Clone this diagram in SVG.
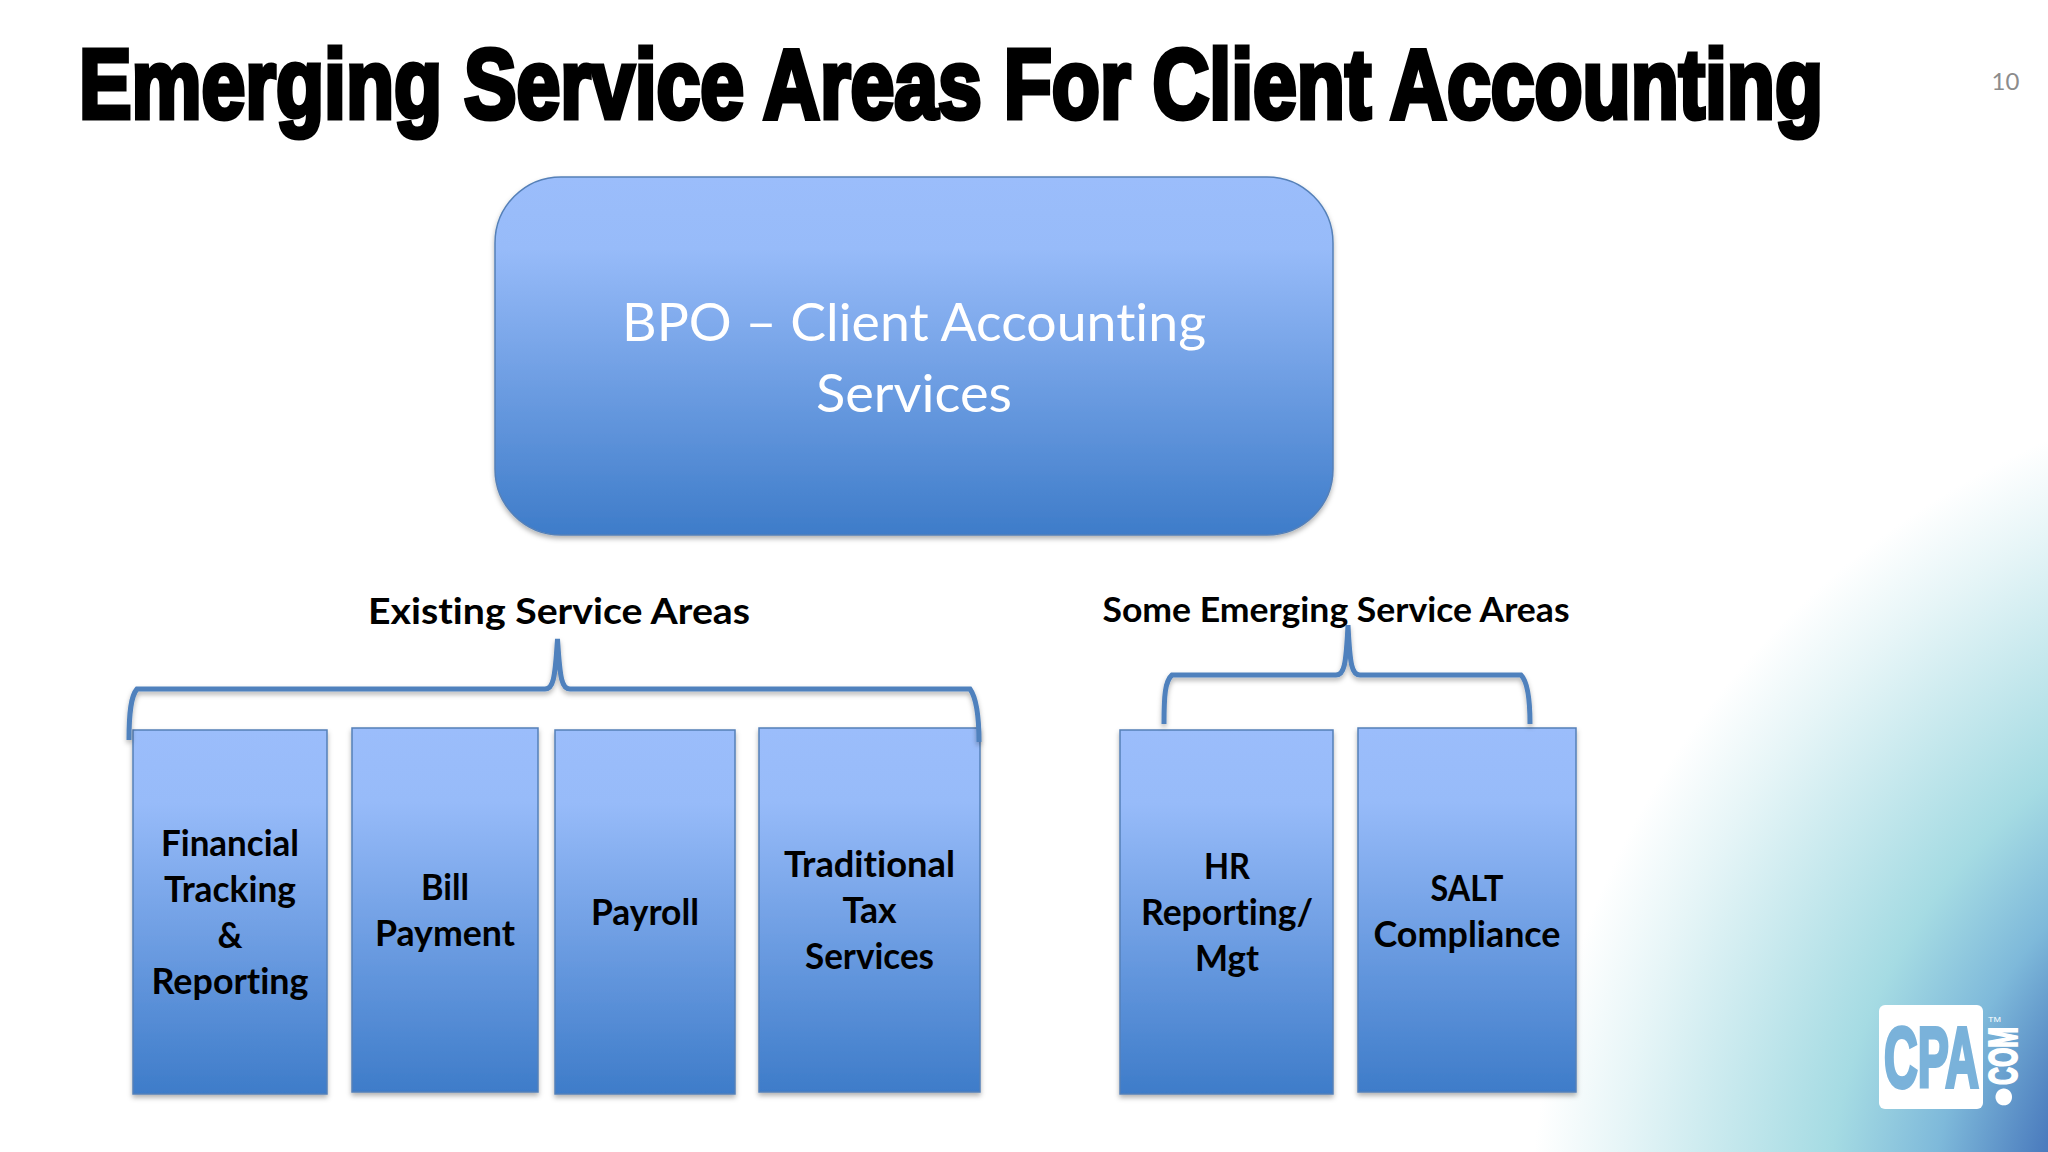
<svg xmlns="http://www.w3.org/2000/svg" width="2048" height="1152" viewBox="0 0 2048 1152">
<style>
.box{fill:url(#boxGrad);stroke:#5580b8;stroke-width:1.5;filter:url(#shadow)}
text{font-variant-ligatures:none}
.lbl{font-family:Lato,"Open Sans",sans-serif;font-weight:700;fill:#000;text-anchor:middle}
.blbl{font-size:36px}
.brace{fill:none;stroke:#4f81bd;stroke-width:5;stroke-linecap:butt;filter:url(#shadow)}
</style>
<defs>
<linearGradient id="boxGrad" x1="0" y1="0" x2="0" y2="1">
<stop offset="0" stop-color="#9bbdfb"/><stop offset="0.2" stop-color="#97bbf9"/><stop offset="1" stop-color="#3e7cc9"/>
</linearGradient>
<radialGradient id="bg" gradientUnits="userSpaceOnUse" cx="2400" cy="1235" r="870">
<stop offset="0.42" stop-color="#4b7cbe"/><stop offset="0.54" stop-color="#7eb9da"/><stop offset="0.66" stop-color="#a5dbe3"/><stop offset="0.9" stop-color="#e6f5f7"/><stop offset="1" stop-color="#ffffff"/>
</radialGradient>
<filter id="shadow" x="-10%" y="-10%" width="120%" height="125%">
<feDropShadow dx="0" dy="3" stdDeviation="2.5" flood-color="#000" flood-opacity="0.3"/>
</filter>
</defs>
<rect id="background" width="2048" height="1152" fill="url(#bg)"/>
<text id="title" x="79" y="118" font-family="'Liberation Sans',Arial,sans-serif" font-weight="700" font-size="98" fill="#000" stroke="#000" stroke-width="5" textLength="1744" lengthAdjust="spacingAndGlyphs">Emerging Service Areas For Client Accounting</text>
<text id="page-number" x="2005.500" y="90" font-family="Lato,sans-serif" font-size="24" fill="#8c8c8c" text-anchor="middle">10</text>

<g id="main-node">
<rect x="495" y="177" width="838" height="358" rx="66" ry="66" class="box"/>
<text x="914" y="341" font-family="Lato,sans-serif" font-size="52" fill="#fff" text-anchor="middle" textLength="584" lengthAdjust="spacingAndGlyphs">BPO – Client Accounting</text>
<text x="914" y="412" font-family="Lato,sans-serif" font-size="52" fill="#fff" text-anchor="middle" textLength="196" lengthAdjust="spacingAndGlyphs">Services</text>
</g>

<g id="heading-existing"><text class="lbl" x="559" y="624" font-size="37" textLength="382" lengthAdjust="spacingAndGlyphs">Existing Service Areas</text></g>
<g id="heading-emerging"><text class="lbl" x="1336" y="622" font-size="35" textLength="467" lengthAdjust="spacingAndGlyphs">Some Emerging Service Areas</text></g>

<g id="node-financial">
<rect x="133" y="730" width="194" height="364" class="box"/>
<text class="lbl blbl" x="230" y="856" textLength="138" lengthAdjust="spacingAndGlyphs">Financial</text>
<text class="lbl blbl" x="230" y="902" textLength="132" lengthAdjust="spacingAndGlyphs">Tracking</text>
<text class="lbl blbl" x="230" y="948" textLength="25" lengthAdjust="spacingAndGlyphs">&amp;</text>
<text class="lbl blbl" x="230" y="994" textLength="157" lengthAdjust="spacingAndGlyphs">Reporting</text>
</g>
<g id="node-bill">
<rect x="352" y="728" width="186" height="364" class="box"/>
<text class="lbl blbl" x="445" y="900" textLength="48" lengthAdjust="spacingAndGlyphs">Bill</text>
<text class="lbl blbl" x="445" y="946" textLength="140" lengthAdjust="spacingAndGlyphs">Payment</text>
</g>
<g id="node-payroll">
<rect x="555" y="730" width="180" height="364" class="box"/>
<text class="lbl blbl" x="645" y="925" textLength="108" lengthAdjust="spacingAndGlyphs">Payroll</text>
</g>
<g id="node-tax">
<rect x="759" y="728" width="221" height="364" class="box"/>
<text class="lbl blbl" x="869.500" y="877" textLength="171" lengthAdjust="spacingAndGlyphs">Traditional</text>
<text class="lbl blbl" x="869.500" y="923" textLength="54" lengthAdjust="spacingAndGlyphs">Tax</text>
<text class="lbl blbl" x="869.500" y="969" textLength="129" lengthAdjust="spacingAndGlyphs">Services</text>
</g>
<g id="node-hr">
<rect x="1120" y="730" width="213" height="364" class="box"/>
<text class="lbl blbl" x="1227" y="879" textLength="46" lengthAdjust="spacingAndGlyphs">HR</text>
<text class="lbl blbl" x="1227" y="925" textLength="172" lengthAdjust="spacingAndGlyphs">Reporting/</text>
<text class="lbl blbl" x="1227" y="971" textLength="64" lengthAdjust="spacingAndGlyphs">Mgt</text>
</g>
<g id="node-salt">
<rect x="1358" y="728" width="218" height="364" class="box"/>
<text class="lbl blbl" x="1467" y="901" textLength="73" lengthAdjust="spacingAndGlyphs">SALT</text>
<text class="lbl blbl" x="1467" y="947" textLength="187" lengthAdjust="spacingAndGlyphs">Compliance</text>
</g>

<g id="connectors">
<path class="brace" d="M129 740 C129 712 131 696 137 689 H545 C553 689 555 680 557.500 639 C560 680 562 689 570 689 H970 C975 696 979 712 979 742"/>
<path class="brace" d="M1164 724 C1164 696 1165 681 1172 675 H1336 C1344 675 1346 666 1348 625 C1350 666 1352 675 1360 675 H1521 C1527 681 1530 696 1530 724"/>
</g>

<g id="logo">
<rect x="1879" y="1005" width="104" height="104" rx="6" fill="#fff"/>
<text x="1884" y="1087" font-family="'Liberation Sans',sans-serif" font-weight="700" font-size="85" fill="#7ab2da" stroke="#7ab2da" stroke-width="4" textLength="95" lengthAdjust="spacingAndGlyphs">CPA</text>
<text transform="translate(2017,1085) rotate(-90)" font-family="'Liberation Sans',sans-serif" font-weight="700" font-size="41" fill="#fff" stroke="#fff" stroke-width="2"><tspan x="-25" y="-6" font-family="Lato,sans-serif" font-size="110" stroke-width="0">.</tspan><tspan x="0" y="0" textLength="58" lengthAdjust="spacingAndGlyphs">COM</tspan></text>
<text x="1988" y="1022" font-family="'Liberation Sans',sans-serif" font-size="8" fill="#fff" textLength="13" lengthAdjust="spacingAndGlyphs">TM</text>
</g>
</svg>
